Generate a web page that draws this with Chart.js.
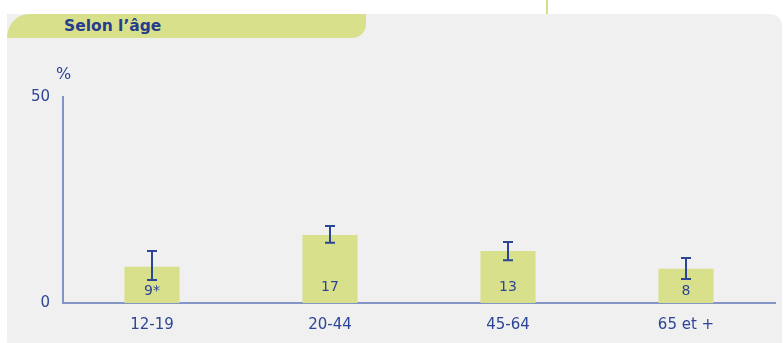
<!DOCTYPE html>
<html>
<head>
<meta charset="utf-8">
<script src="https://cdn.jsdelivr.net/npm/chart.js@4"></script>
<style>
  body { margin: 0; background: #fff; font-family: "DejaVu Sans", Verdana, sans-serif; }
  #wrap { position: relative; width: 783px; height: 343px; overflow: hidden; }
  #topline { position: absolute; left: 546px; top: 0; width: 2px; height: 14px; background: #d6df8a; }
  #panel { position: absolute; left: 7px; top: 14px; width: 775px; height: 345px; background: #f0f0f0;
           border-top-right-radius: 12px; border-bottom-left-radius: 20px; }
  #tab { position: absolute; left: 7px; top: 14px; width: 359px; height: 24px; background: #d9e08c;
         border-top-left-radius: 22px 24px; border-bottom-right-radius: 14px; }
  #tab span { position: absolute; left: 57px; top: 3px; font-weight: bold; font-size: 15.5px; color: #283c8c; }
  canvas { position: absolute; left: 0; top: 0; }
</style>
</head>
<body>
<div id="wrap">
  <div id="topline"></div>
  <div id="panel"></div>
  <div id="tab"><span>Selon l’âge</span></div>
  <canvas id="chart" width="783" height="343"></canvas>
</div>
<script>
var categories = ["12-19", "20-44", "45-64", "65 et +"];
var values = [8.8, 16.5, 12.6, 8.3];
var valueLabels = ["9*", "17", "13", "8"];
var errLow = [5.6, 14.6, 10.4, 5.8];
var errHigh = [12.6, 18.7, 14.8, 10.9];
var yTicks = [0, 50];

var textColor = "#2d4595";
var axisColor = "#8494c4";
var barColor = "#d9e08c";
var fontFamily = "'DejaVu Sans', Verdana, sans-serif";

// error bars + value labels drawn after the bars
var extras = {
  id: "extras",
  afterDatasetsDraw(chart) {
    const ctx = chart.ctx;
    const y = chart.scales.y;
    const meta = chart.getDatasetMeta(0);
    const base = y.getPixelForValue(0);
    ctx.save();
    meta.data.forEach(function (bar, i) {
      const x = bar.x;
      const top = y.getPixelForValue(errHigh[i]);
      const low = y.getPixelForValue(errLow[i]);
      ctx.strokeStyle = textColor;
      ctx.lineWidth = 2;
      ctx.beginPath();
      ctx.moveTo(x, top); ctx.lineTo(x, low);
      ctx.moveTo(x - 5, top); ctx.lineTo(x + 5, top);
      ctx.moveTo(x - 5, low); ctx.lineTo(x + 5, low);
      ctx.stroke();

      ctx.fillStyle = textColor;
      ctx.font = "14px " + fontFamily;
      ctx.textAlign = "center";
      ctx.textBaseline = "middle";
      const ly = Math.max(base - 16, (low + base) / 2);
      ctx.fillText(valueLabels[i], x, ly);
    });
    // unit label
    ctx.font = "16px " + fontFamily;
    ctx.textAlign = "left";
    ctx.textBaseline = "middle";
    ctx.fillText("%", chart.chartArea.left - 7, chart.chartArea.top - 22);
    ctx.restore();
  }
};

new Chart(document.getElementById("chart"), {
  type: "bar",
  data: {
    labels: categories,
    datasets: [{
      data: values,
      backgroundColor: barColor,
      borderWidth: 0,
      barPercentage: 0.31,
      categoryPercentage: 1
    }]
  },
  options: {
    responsive: false,
    animation: false,
    layout: { padding: { top: 97, right: 8, left: 0, bottom: 0 } },
    plugins: { legend: { display: false }, tooltip: { enabled: false } },
    scales: {
      x: {
        grid: { display: false, drawTicks: false },
        border: { display: true, color: axisColor, width: 2 },
        ticks: { color: textColor, font: { family: fontFamily, size: 15 }, padding: 13 },
        afterFit(s) { s.height = 40; }
      },
      y: {
        min: 0,
        max: 50,
        afterBuildTicks(s) { s.ticks = yTicks.map(function (v) { return { value: v }; }); },
        grid: { display: false, drawTicks: false },
        border: { display: true, color: axisColor, width: 2 },
        ticks: { color: textColor, font: { family: fontFamily, size: 15 }, padding: 13 },
        afterFit(s) { s.width = 63; }
      }
    }
  },
  plugins: [extras]
});
</script>
</body>
</html>
